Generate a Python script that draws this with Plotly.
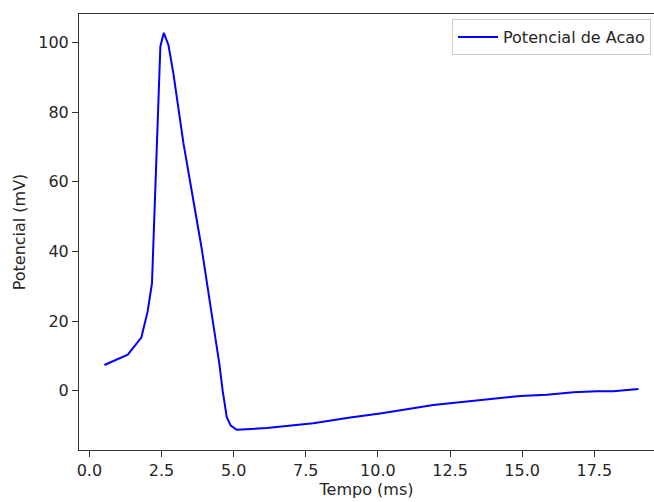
import plotly.graph_objects as go

tempo = [0.52, 1.33, 1.80, 2.02, 2.17, 2.25, 2.31, 2.46, 2.58, 2.74, 2.91, 3.26,
         3.66, 3.90, 4.24, 4.50, 4.62, 4.76, 4.90, 5.11, 6.15, 7.76, 9.04, 10.08,
         11.92, 13.66, 14.93, 15.85, 16.78, 17.59, 18.16, 19.03]
potencial = [7.4, 10.4, 15.3, 22.8, 30.9, 49.5, 68.5, 98.9, 102.8, 99.3, 91.2, 71.1,
             52.0, 40.5, 22.0, 8.0, 0.0, -7.5, -10.0, -11.2, -10.7, -9.3, -7.7, -6.5,
             -4.1, -2.5, -1.5, -1.1, -0.4, -0.1, -0.1, 0.5]

W, H = 654, 502
L, R, T, B = 79, 0, 14, 52

fig = go.Figure()
fig.add_trace(go.Scatter(x=tempo, y=potencial, mode="lines",
                         line=dict(color="#0000ff", width=2),
                         name="Potencial de Acao"))

font = dict(family="DejaVu Sans", size=16, color="#262626")
axis_common = dict(showgrid=False, zeroline=False, showline=True, linecolor="#333333",
                   linewidth=1, ticks="outside", ticklen=6, tickcolor="#333333",
                   tickfont=font)

fig.update_layout(
    width=W, height=H,
    margin=dict(l=L, r=R, t=T, b=B),
    paper_bgcolor="white", plot_bgcolor="white",
    font=font,
    showlegend=True,
    legend=dict(x=(452 - L) / (W - L - R), y=1 - (19 - T) / (H - T - B),
                xanchor="left", yanchor="top", itemwidth=40,
                bordercolor="#cccccc", borderwidth=1, bgcolor="rgba(255,255,255,0.8)",
                font=font),
    xaxis=dict(axis_common, range=[-0.36, 19.57], tickvals=[0, 2.5, 5, 7.5, 10, 12.5, 15, 17.5],
               ticktext=["0.0", "2.5", "5.0", "7.5", "10.0", "12.5", "15.0", "17.5"],
               mirror=True,
               title=dict(text="Tempo (ms)", font=font, standoff=4)),
    yaxis=dict(axis_common, range=[-17.0, 108.2], tickvals=[0, 20, 40, 60, 80, 100],
               title=dict(text="Potencial (mV)", font=font, standoff=8)),
)

fig.write_html("out.html")
